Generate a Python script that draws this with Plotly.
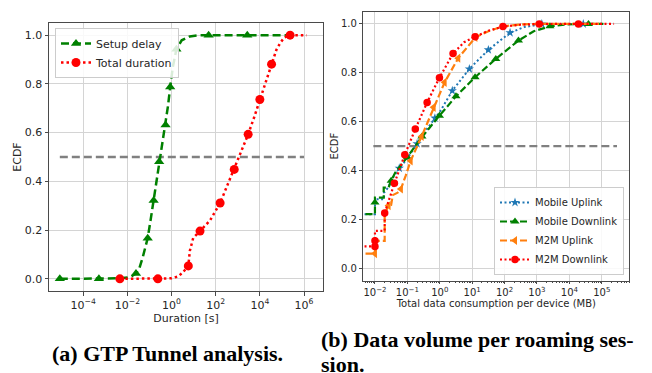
import plotly.graph_objects as go

# ---------------- data (x given as log10 values) ----------------
# (a) GTP tunnel analysis
setup_line_log = [-5.06, -3.29, -2.3, -2.0, -1.8, -1.61, -1.45, -1.3, -1.08, -0.95, -0.81, -0.68, -0.56,
                  -0.42, -0.27, -0.16, -0.06, 0.06, 0.22, 0.46, 0.83, 1.2, 1.68, 3.43, 5.2]
setup_line_y = [0, 0, 0.002, 0.005, 0.011, 0.022, 0.045, 0.09, 0.167, 0.24, 0.321, 0.40, 0.48,
                0.555, 0.631, 0.71, 0.787, 0.87, 0.942, 0.979, 0.995, 0.999, 1.0, 1.0, 1.0]
setup_mark_log = [-5.06, -3.29, -1.61, -1.08, -0.81, -0.56, -0.27, -0.06, 0.22, 1.68, 3.43]
setup_mark_y = [0, 0, 0.022, 0.167, 0.321, 0.48, 0.631, 0.787, 0.942, 1.0, 1.0]

total_line_log = [-2.34, -0.62, 0.0, 0.3, 0.5, 0.76, 0.83, 0.98, 1.29, 1.74, 2.2, 2.5, 2.84, 3.16,
                  3.47, 3.75, 4.0, 4.27, 4.53, 4.75, 4.91, 5.1, 5.37, 6.12]
total_line_y = [0, 0, 0.002, 0.01, 0.025, 0.053, 0.115, 0.167, 0.196, 0.239, 0.311, 0.376, 0.449, 0.52,
                0.593, 0.665, 0.736, 0.81, 0.881, 0.94, 0.966, 0.99, 1.0, 1.0]
total_mark_log = [-2.34, -0.62, 0.76, 1.29, 2.2, 2.84, 3.47, 4.0, 4.53, 5.37]
total_mark_y = [0, 0, 0.053, 0.196, 0.311, 0.449, 0.593, 0.736, 0.881, 1.0]

median_a_log = [-5.06, 6.0]
median_y = [0.5, 0.5]

# (b) data volume per roaming session
mob_up_line_log = [-2.6, -2.0, -2.0, -1.72, -1.72, -1.6, -1.45, -1.3, -1.0, -0.7, -0.4, 0.0, 0.387,
                   0.913, 1.5, 2.17, 2.6, 3.1, 3.5, 4.43, 5.05]
mob_up_line_y = [0.222, 0.222, 0.283, 0.283, 0.31, 0.33, 0.37, 0.40, 0.45, 0.51, 0.57, 0.64, 0.727,
                 0.816, 0.894, 0.964, 0.987, 0.998, 1.0, 1.0, 1.0]
mob_up_mark_log = [-1.25, -0.7, -0.15, 0.387, 0.913, 1.5, 2.17, 3.15, 4.43]
mob_up_mark_y = [0.41, 0.51, 0.615, 0.727, 0.816, 0.894, 0.964, 1.0, 1.0]

mob_dn_line_log = [-2.6, -2.0, -2.0, -1.73, -1.73, -1.58, -1.5, -1.37, -1.01, -0.6, -0.01, 0.5, 1.09,
                   1.73, 2.43, 2.9, 3.4, 3.9, 4.59, 5.05]
mob_dn_line_y = [0.222, 0.222, 0.29, 0.29, 0.331, 0.331, 0.359, 0.393, 0.454, 0.529, 0.625, 0.704, 0.782,
                 0.857, 0.932, 0.97, 0.99, 0.998, 1.0, 1.0]
mob_dn_mark_log = [-2.0, -1.5, -1.0, -0.55, -0.01, 0.5, 1.09, 1.73, 2.43, 3.4, 4.59]
mob_dn_mark_y = [0.27, 0.359, 0.455, 0.54, 0.625, 0.704, 0.782, 0.857, 0.932, 0.99, 1.0]

m2m_up_line_log = [-2.6, -2.0, -2.0, -1.70, -1.70, -1.58, -1.5, -1.45, -1.3, -1.2, -1.05, -0.9, -0.56,
                   -0.19, 0.15, 0.57, 1.1, 1.5, 1.95, 2.5, 3.0, 5.0]
m2m_up_line_y = [0.061, 0.061, 0.113, 0.113, 0.225, 0.257, 0.26, 0.30, 0.31, 0.325, 0.38, 0.44, 0.54,
                 0.659, 0.761, 0.86, 0.945, 0.97, 0.99, 0.998, 1.0, 1.0]
m2m_up_mark_log = [-2.0, -1.58, -1.2, -0.9, -0.56, -0.19, 0.15, 0.57, 1.1]
m2m_up_mark_y = [0.061, 0.257, 0.325, 0.44, 0.54, 0.659, 0.761, 0.86, 0.945]

m2m_dn_line_log = [-2.6, -2.0, -2.0, -1.70, -1.70, -1.55, -1.40, -1.08, -0.755, -0.39, -0.01, 0.41, 0.75,
                   1.09, 1.5, 1.95, 2.5, 3.07, 4.28, 5.38]
m2m_dn_line_y = [0.09, 0.09, 0.154, 0.154, 0.227, 0.29, 0.348, 0.465, 0.57, 0.679, 0.78, 0.879, 0.925,
                 0.948, 0.972, 0.989, 0.997, 1.0, 1.0, 1.0]
m2m_dn_mark_log = [-2.0, -2.0, -1.70, -1.40, -1.08, -0.755, -0.39, -0.01, 0.41, 1.09, 1.95, 3.07, 4.28]
m2m_dn_mark_y = [0.09, 0.113, 0.227, 0.348, 0.465, 0.57, 0.679, 0.78, 0.879, 0.948, 0.989, 1.0, 1.0]

median_b_log = [-2.05, 5.47]

y_ticks = [0, 0.2, 0.4, 0.6, 0.8, 1.0]
xa_tick_exp = [-4, -2, 0, 2, 4, 6]
xb_tick_exp = [-2, -1, 0, 1, 2, 3, 4, 5]

caption_a = "(a) GTP Tunnel analysis."
caption_b1 = "(b) Data volume per roaming ses-"
caption_b2 = "sion."


def pw(v):
    return [10 ** e for e in v]


def lab(e):
    return "10<sup>" + (str(e).replace("-", "\u2212")) + "</sup>"


GREEN = "#008000"
RED = "#ff0000"
BLUE = "#1f77b4"
ORANGE = "#ff7f0e"
GRAY = "#808080"
FONT = "DejaVu Sans"
TXT = "#262626"

fig = go.Figure()


def series(xl, yl, xm, ym, name, color, dash, width, symbol, msize, xa, ya, legend):
    fig.add_trace(go.Scatter(x=pw(xl), y=yl, mode="lines", line=dict(color=color, dash=dash, width=width),
                             showlegend=False, xaxis=xa, yaxis=ya, hoverinfo="skip"))
    fig.add_trace(go.Scatter(x=pw(xm), y=ym, mode="markers",
                             marker=dict(color=color, symbol=symbol, size=msize, line=dict(width=0)),
                             showlegend=False, xaxis=xa, yaxis=ya, cliponaxis=False))
    fig.add_trace(go.Scatter(x=[None], y=[None], mode="lines+markers", name=name,
                             line=dict(color=color, dash=dash, width=width),
                             marker=dict(color=color, symbol=symbol, size=msize, line=dict(width=0)),
                             xaxis=xa, yaxis=ya, legend=legend))


# (a)
fig.add_trace(go.Scatter(x=pw(median_a_log), y=median_y, mode="lines",
                         line=dict(color=GRAY, dash="8px,4px", width=2.3), showlegend=False,
                         xaxis="x", yaxis="y"))
series(setup_line_log, setup_line_y, setup_mark_log, setup_mark_y, "Setup delay", GREEN, "8px,4px", 2.5,
       "triangle-up", 9, "x", "y", "legend")
series(total_line_log, total_line_y, total_mark_log, total_mark_y, "Total duration", RED, "2.5px,3px", 2.5,
       "circle", 9, "x", "y", "legend")

# (b)
fig.add_trace(go.Scatter(x=pw(median_b_log), y=median_y, mode="lines",
                         line=dict(color=GRAY, dash="8px,4px", width=2.2), showlegend=False,
                         xaxis="x2", yaxis="y2"))
series(mob_up_line_log, mob_up_line_y, mob_up_mark_log, mob_up_mark_y, "Mobile Uplink", BLUE, "2px,2.5px", 2,
       "star", 7, "x2", "y2", "legend2")
series(mob_dn_line_log, mob_dn_line_y, mob_dn_mark_log, mob_dn_mark_y, "Mobile Downlink", GREEN, "7px,3px", 2.2,
       "triangle-up", 8, "x2", "y2", "legend2")
series(m2m_up_line_log, m2m_up_line_y, m2m_up_mark_log, m2m_up_mark_y, "M2M Uplink", ORANGE, "7px,3px", 2.2,
       "triangle-left", 8, "x2", "y2", "legend2")
series(m2m_dn_line_log, m2m_dn_line_y, m2m_dn_mark_log, m2m_dn_mark_y, "M2M Downlink", RED, "2px,2.5px", 2.2,
       "circle", 7.5, "x2", "y2", "legend2")

W, H = 652, 373
GRID = "#d4d4d4"
LINE = "#4a4a4a"

common_y = dict(range=[-0.05, 1.05], tickvals=y_ticks, tickformat=".1f", ticks="outside", ticklen=3.5,
                tickcolor=LINE, showgrid=True, gridcolor=GRID, gridwidth=1, zeroline=False,
                showline=True, linecolor=LINE, linewidth=1, mirror=True, automargin=False)

minor_vals = [k * 10 ** d for d in range(-3, 6) for k in range(2, 10)]

fig.update_layout(
    width=W, height=H, margin=dict(l=0, r=0, t=0, b=0, autoexpand=False),
    paper_bgcolor="white", plot_bgcolor="white",
    font=dict(family=FONT, color=TXT),
    xaxis=dict(type="log", domain=[49 / W, 323 / W], range=[-5.55, 6.86],
               tickvals=pw(xa_tick_exp), ticktext=[lab(e) for e in xa_tick_exp],
               ticks="outside", ticklen=3.5, tickcolor=LINE, tickfont=dict(size=11),
               showgrid=True, gridcolor=GRID, gridwidth=1, zeroline=False, automargin=False,
               showline=True, linecolor=LINE, linewidth=1, mirror=True, anchor="y",
               title=dict(text="Duration [s]", font=dict(size=11), standoff=1)),
    yaxis=dict(domain=[1 - 291 / H, 1 - 23 / H], anchor="x", tickfont=dict(size=11),
               title=dict(text="ECDF", font=dict(size=11), standoff=0), **common_y),
    xaxis2=dict(type="log", domain=[363.3 / W, 629.3 / W], range=[-2.36, 5.85],
                tickvals=pw(xb_tick_exp), ticktext=[lab(e) for e in xb_tick_exp],
                ticks="outside", ticklen=2, tickcolor=LINE, tickfont=dict(size=10),
                minor=dict(tickvals=minor_vals, ticks="outside", ticklen=1.5, tickcolor=LINE, showgrid=False),
                showgrid=True, gridcolor=GRID, gridwidth=1, zeroline=False, automargin=False,
                showline=True, linecolor=LINE, linewidth=1, mirror=True, anchor="y2",
                title=dict(text="Total data consumption per device (MB)", font=dict(size=10), standoff=1)),
    yaxis2=dict(domain=[1 - 280.7 / H, 1 - 11.7 / H], anchor="x2", tickfont=dict(size=10),
                title=dict(text="ECDF", font=dict(size=10), standoff=0), **common_y),
    legend=dict(x=55 / W, y=1 - 28 / H, xanchor="left", yanchor="top", bgcolor="rgba(255,255,255,0.85)",
                bordercolor="#cccccc", borderwidth=1, font=dict(size=11, family=FONT, color=TXT),
                tracegroupgap=0, itemwidth=30),
    legend2=dict(x=624 / W, y=1 - 275 / H, xanchor="right", yanchor="bottom", bgcolor="rgba(255,255,255,0.85)",
                 bordercolor="#cccccc", borderwidth=1, font=dict(size=10, family=FONT, color=TXT),
                 tracegroupgap=0, itemwidth=30),
    annotations=[
        dict(text="<b>" + caption_a + "</b>", x=167.5 / W, y=1 - 353.3 / H, xref="paper", yref="paper",
             xanchor="center", yanchor="middle", showarrow=False,
             font=dict(family="Liberation Serif", size=22, color="black")),
        dict(text="<b>" + caption_b1 + "</b>", x=319 / W, y=1 - 339.6 / H,
             xref="paper", yref="paper", xanchor="left", yanchor="middle", showarrow=False,
             font=dict(family="Liberation Serif", size=22, color="black")),
        dict(text="<b>" + caption_b2 + "</b>", x=319 / W, y=1 - 364.5 / H,
             xref="paper", yref="paper", xanchor="left", yanchor="middle", showarrow=False,
             font=dict(family="Liberation Serif", size=22, color="black")),
    ],
)

fig.write_html("out.html", config={"displayModeBar": False},
               post_script="document.body.style.margin='0';document.body.style.overflow='hidden';")
